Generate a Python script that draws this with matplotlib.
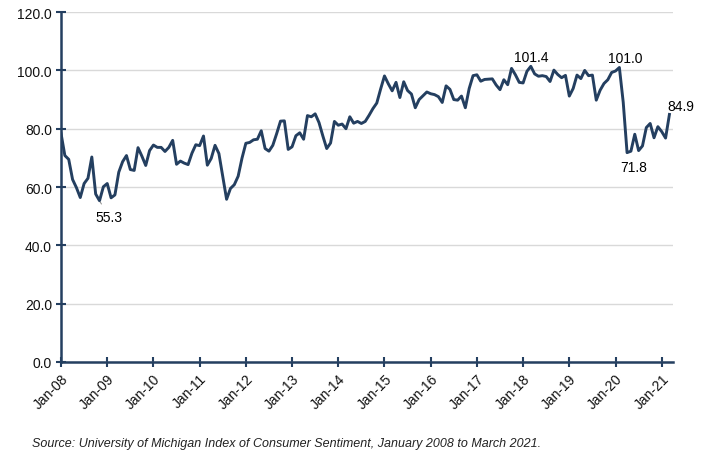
import matplotlib.pyplot as plt

# University of Michigan consumer sentiment, monthly Jan 2008 - Mar 2021
sentiment = [
    78.4, 70.8, 69.5, 62.6, 59.8, 56.4, 61.2, 63.0, 70.3, 57.6, 55.3, 60.1,  # 2008
    61.2, 56.3, 57.3, 65.1, 68.7, 70.8, 66.0, 65.7, 73.5, 70.6, 67.4, 72.5,  # 2009
    74.4, 73.6, 73.6, 72.2, 73.6, 76.0, 67.8, 68.9, 68.2, 67.7, 71.6, 74.5,  # 2010
    74.2, 77.5, 67.5, 69.8, 74.3, 71.5, 63.7, 55.8, 59.5, 60.8, 63.7, 69.9,  # 2011
    75.0, 75.3, 76.2, 76.4, 79.3, 73.2, 72.3, 74.3, 78.3, 82.6, 82.7, 72.9,  # 2012
    73.8, 77.6, 78.6, 76.4, 84.5, 84.1, 85.1, 82.1, 77.5, 73.2, 75.1, 82.5,  # 2013
    81.2, 81.6, 80.0, 84.1, 81.9, 82.5, 81.8, 82.5, 84.6, 86.9, 88.8, 93.6,  # 2014
    98.1, 95.4, 93.0, 95.9, 90.7, 96.1, 93.1, 91.9, 87.2, 90.0, 91.3, 92.6,  # 2015
    92.0, 91.7, 91.0, 89.0, 94.7, 93.5, 90.0, 89.8, 91.2, 87.2, 93.8, 98.2,  # 2016
    98.5, 96.3, 96.9, 97.0, 97.1, 95.0, 93.4, 96.8, 95.1, 100.7, 98.5, 95.9,  # 2017
    95.7, 99.7, 101.4, 98.8, 98.0, 98.2, 97.9, 96.2, 100.1, 98.6, 97.5, 98.3,  # 2018
    91.2, 93.8, 98.4, 97.2, 100.0, 98.2, 98.4, 89.8, 93.2, 95.5, 96.8, 99.3,  # 2019
    99.8, 101.0, 89.1, 71.8, 72.3, 78.1, 72.5, 74.1, 80.4, 81.8, 76.9, 80.7,  # 2020
    79.0, 76.8, 84.9,  # 2021
]
years = list(range(2008, 2022))
tick_labels = [f"Jan-{y % 100:02d}" for y in years]
# (month index, text offset in points)
callouts = [(10, (7, -12)), (122, (0, 7)), (145, (4, 7)), (147, (5, -10)), (158, (8, 6))]

navy = "#243f60"
plt.rcParams['font.family'] = ['Liberation Sans', 'DejaVu Sans']

fig = plt.figure(figsize=(7.07, 4.52), dpi=100)
ax = fig.add_axes([0.0863, 0.197, 0.866, 0.774])

x = list(range(len(sentiment)))
ax.plot(x, sentiment, color=navy, lw=2.1, solid_joinstyle='round', zorder=3)

for i, off in callouts:
    if i == 10:
        # small grey leader line to the 2008 low
        ax.annotate(f"{sentiment[i]:.1f}", (x[i], sentiment[i]), xytext=off,
                    textcoords='offset points', ha='center', va='center', fontsize=10,
                    arrowprops=dict(arrowstyle='-', color='#8a8a8a', lw=0.7, shrinkA=3, shrinkB=1))
    else:
        ax.annotate(f"{sentiment[i]:.1f}", (x[i], sentiment[i]), xytext=off,
                    textcoords='offset points', ha='center', va='center', fontsize=10)

ax.set_xlim(0, 159)
ax.set_ylim(0, 120)
ax.set_yticks(range(0, 121, 20))
ax.set_yticklabels([f"{v:.1f}" for v in range(0, 121, 20)], fontsize=10)
ax.set_xticks([12 * k for k in range(len(years))])
ax.set_xticklabels(tick_labels, rotation=45, ha='right', rotation_mode='anchor', fontsize=10)

ax.grid(axis='y', color='#d9d9d9', lw=1)
ax.set_axisbelow(True)
for s in ['top', 'right']:
    ax.spines[s].set_visible(False)
for s in ['left', 'bottom']:
    ax.spines[s].set_color(navy)
    ax.spines[s].set_linewidth(1.8)
ax.tick_params(direction='inout', length=7, width=1.5, color=navy, labelcolor='#111111', pad=3)

fig.text(0.045, 0.018, "Source: University of Michigan Index of Consumer Sentiment, January 2008 to March 2021.",
         fontsize=9, style='italic', color='#222222', va='center')

fig.savefig("out.png", dpi=100)
